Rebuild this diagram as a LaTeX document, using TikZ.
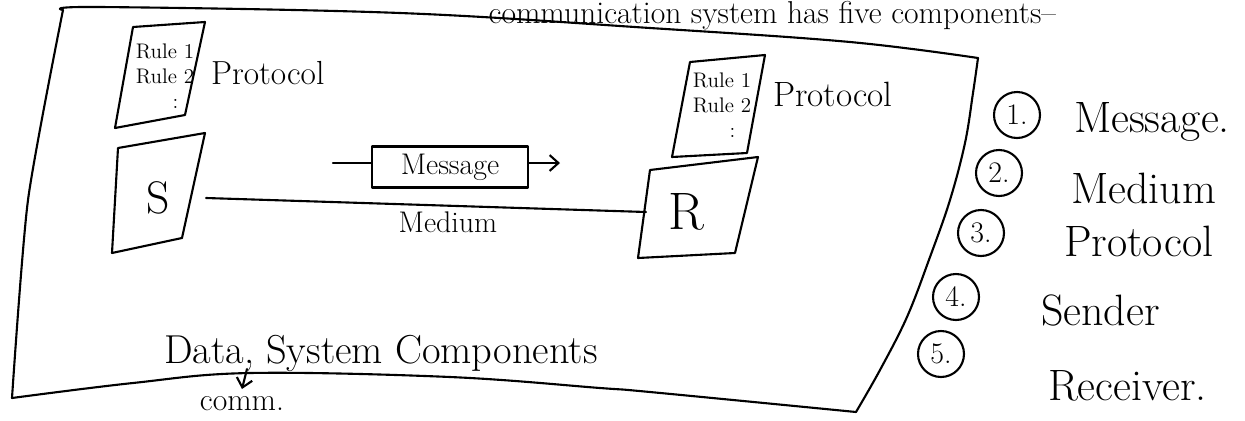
\documentclass[tikz,border=0pt]{standalone}
\usepackage{fontspec}
\usepackage{tikz}
\usetikzlibrary{
    arrows.meta,
    positioning
}

\begin{document}
\begin{tikzpicture}[x=0.02cm,y=-0.02cm,>={Straight Barb[length=5pt,width=9pt]},line width=1.2pt,line cap=round,line join=round]
    \tikzstyle{word}=[inner sep=0pt, font=\fontsize{25}{30}\selectfont]
    \tikzstyle{rules}=[inner sep=0pt, align=right, font=\fontsize{12}{14.2}\selectfont]
    \tikzstyle{num}=[draw, circle, minimum size=0.92cm, inner sep=0pt, font=\fontsize{17}{20}\selectfont]
    \useasboundingbox (0,0) rectangle (1245,420);
    \clip (0,0) rectangle (1245,420);
    \fill [white] (0,0) rectangle (1245,420);

    % outer frame
    \draw plot [smooth, tension=0.6] coordinates {(63,10) (100,7) (400,13) (650,28) (850,42) (978,58)};
    \draw plot [smooth, tension=0.6] coordinates {(978,58) (973,93) (965,143) (950,200) (930,257) (907,317) (880,370) (856,412)};
    \draw plot [smooth, tension=0.6] coordinates {(856,412) (650,392) (600,388) (450,377) (250,373) (133,383) (12,398)};
    \draw plot [smooth, tension=0.4] coordinates {(12,398) (28,200) (63,10)};

    \node [word, anchor=base east, font=\fontsize{18}{22}\selectfont] (head) at (1057,23) {communication system has five components--};

    % sender side
    \draw (133,27) -- (205,22) -- (185,115) -- (115,128) -- cycle;
    \node [rules] (ps) at (165,76) {Rule 1\\Rule 2\\:\hspace*{9pt}};
    \node [word, anchor=base west, font=\fontsize{19}{22}\selectfont] (pslabel) at (210,84) {Protocol};
    \draw (118,148) -- (205,133) -- (182,238) -- (112,253) -- cycle;
    \node [word, minimum width=1.88cm, font=\fontsize{26}{30}\selectfont] (S) at (158,198) {S};

    % receiver side
    \draw (690,62) -- (765,55) -- (747,153) -- (672,157) -- cycle;
    \node [rules] (pr) at (722,105) {Rule 1\\Rule 2\\:\hspace*{9pt}};
    \node [word, anchor=base west, font=\fontsize{20}{24}\selectfont] (prlabel) at (772,106) {Protocol};
    \draw (650,170) -- (758,157) -- (735,253) -- (638,258) -- cycle;
    \node [word, minimum width=1.56cm, font=\fontsize{30}{34}\selectfont] (R) at (686,212) {R};

    % medium and message
    \draw (S.east) -- node [pos=0.55, below=3pt, word, font=\fontsize{17}{20}\selectfont] (med) {Medium} (R.west);
    \node [draw, minimum width=3.12cm, minimum height=0.82cm, font=\fontsize{17}{20}\selectfont] (msg) at (450,167) {Message};
    \coordinate (msgin) at (333,163);
    \coordinate (msgout) at (560,163);
    \draw (msgin) -- (msg.west |- msgin);
    \draw [->] (msg.east |- msgout) -- (msgout);

    % caption
    \node [word, anchor=base west, font=\fontsize{23}{27}\selectfont] (cap) at (163,363) {Data, System Components};
    \node [word, anchor=base, outer sep=4pt, font=\fontsize{18}{22}\selectfont] (comm) at (242,410) {comm.};
    \coordinate (cm) at (247,369);
    \draw [->] (cm) -- (comm.north);

    % list of components
    \node [num] (n1) at (1017,115) {1.};
    \node [num] (n2) at (999,173) {2.};
    \node [num] (n3) at (981,233) {3.};
    \node [num] (n4) at (956,297) {4.};
    \node [num] (n5) at (941,354) {5.};
    \node [word, anchor=base west] (l1) at (1073,132) {Message.};
    \node [word, anchor=base west] (l2) at (1070,203) {Medium};
    \node [word, anchor=base west] (l3) at (1063,256) {Protocol};
    \node [word, anchor=base west] (l4) at (1040,325) {Sender};
    \node [word, anchor=base west] (l5) at (1047,400) {Receiver.};
\end{tikzpicture}
\end{document}
